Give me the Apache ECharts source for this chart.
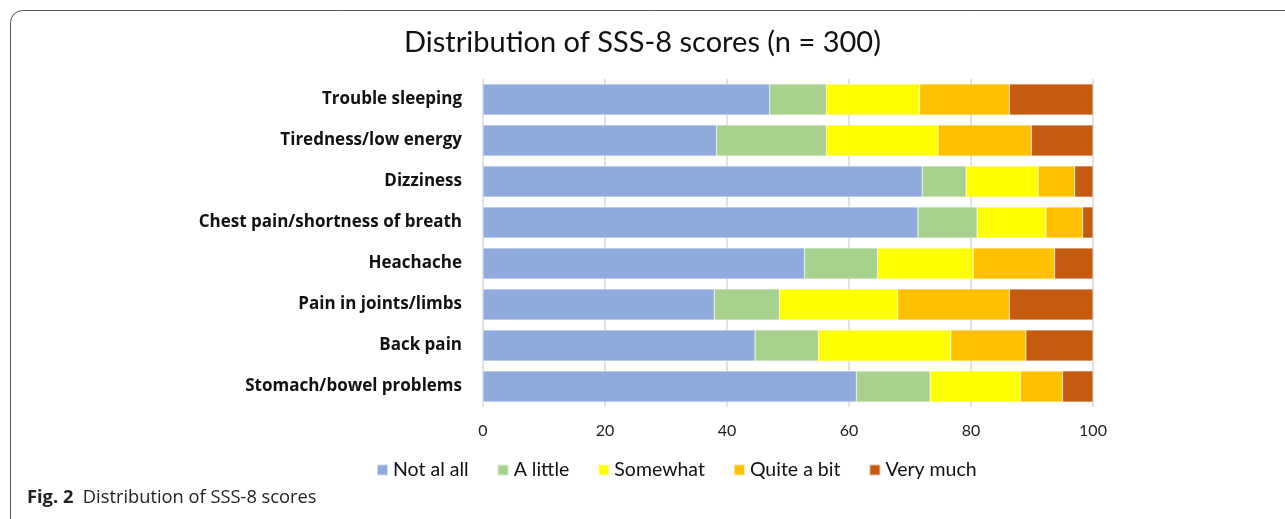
<!DOCTYPE html>
<html>
<head>
<meta charset="utf-8">
<script src="https://cdn.jsdelivr.net/npm/echarts@6/dist/echarts.min.js"></script>
<style>
  html, body { margin: 0; padding: 0; background: #fff; }
  #chart { width: 1285px; height: 519px; }
</style>
</head>
<body>
<div id="chart"></div>
<script>
// SSS-8 items, top to bottom
const categories = [
  'Trouble sleeping',
  'Tiredness/low energy',
  'Dizziness',
  'Chest pain/shortness of breath',
  'Heachache',
  'Pain in joints/limbs',
  'Back pain',
  'Stomach/bowel problems'
]
const levels = ['Not al all', 'A little', 'Somewhat', 'Quite a bit', 'Very much']

// percent of respondents per answer level
const notAtAll = [47.0, 38.3, 72.0, 71.3, 52.7, 37.9, 44.6, 61.2]
const aLittle = [9.3, 18.0, 7.2, 9.7, 12.0, 10.7, 10.4, 12.1]
const somewhat = [15.3, 18.3, 11.8, 11.3, 15.7, 19.4, 21.7, 14.8]
const quiteABit = [14.7, 15.3, 6.0, 6.0, 13.3, 18.3, 12.3, 6.9]
const veryMuch = [13.7, 10.1, 3.0, 1.7, 6.3, 13.7, 11.0, 5.0]

const xTicks = [0, 20, 40, 60, 80, 100]

const colors = ['#8FAADC', '#A9D18E', '#FFFF00', '#FFC000', '#C55A11']
const seriesData = [notAtAll, aLittle, somewhat, quiteABit, veryMuch]

const chart = echarts.init(document.getElementById('chart'))
const font = 'Lato, "Noto Sans", sans-serif'

const option = {
  backgroundColor: '#fff',
  animation: false,
  color: colors,
  title: {
    text: 'Distribution of SSS-8 scores (n = 300)',
    left: 'center',
    top: 23,
    textStyle: { fontFamily: font, fontSize: 29, fontWeight: 'normal', color: '#111' }
  },
  legend: {
    left: 371,
    top: 455,
    itemWidth: 11,
    itemHeight: 11,
    itemGap: 28,
    icon: 'rect',
    textStyle: { fontFamily: font, fontSize: 19.5, color: '#111' },
    data: levels
  },
  grid: { left: 483, right: 192, top: 79, bottom: 112 },
  xAxis: {
    type: 'value',
    min: xTicks[0],
    max: xTicks[xTicks.length - 1],
    interval: 20,
    axisLine: { show: false },
    axisTick: { show: false },
    splitLine: { show: true, lineStyle: { color: '#d9d9d9', width: 1.5 } },
    axisLabel: { fontFamily: font, fontSize: 16, color: '#222', margin: 16 }
  },
  yAxis: {
    type: 'category',
    inverse: true,
    data: categories,
    axisLine: { show: false },
    axisTick: { show: false },
    axisLabel: { fontFamily: '"Open Sans", "Noto Sans", sans-serif', fontSize: 17, fontWeight: 'bold', color: '#111', margin: 21 }
  },
  series: levels.map((name, i) => ({
    name,
    type: 'bar',
    stack: 'total',
    barCategoryGap: '24%',
    itemStyle: { borderColor: 'rgba(255,255,255,0.6)', borderWidth: 0.5 },
    data: seriesData[i]
  })),
  graphic: [
    {
      type: 'rect',
      shape: { x: 10.5, y: 10.5, width: 1400, height: 560, r: 12 },
      style: { fill: 'none', stroke: '#555', lineWidth: 1 },
      silent: true
    },
    {
      type: 'text',
      left: 27,
      top: 489,
      style: {
        text: '{b|Fig. 2}  Distribution of SSS-8 scores',
        fontFamily: '"Open Sans", sans-serif',
        fontSize: 18.3,
        fill: '#222',
        rich: {
          b: { fontFamily: '"Open Sans", sans-serif', fontSize: 18.3, fontWeight: 'bold', fill: '#222' }
        }
      }
    }
  ]
}

chart.setOption(option)
window.addEventListener('resize', () => chart.resize())
</script>
</body>
</html>
